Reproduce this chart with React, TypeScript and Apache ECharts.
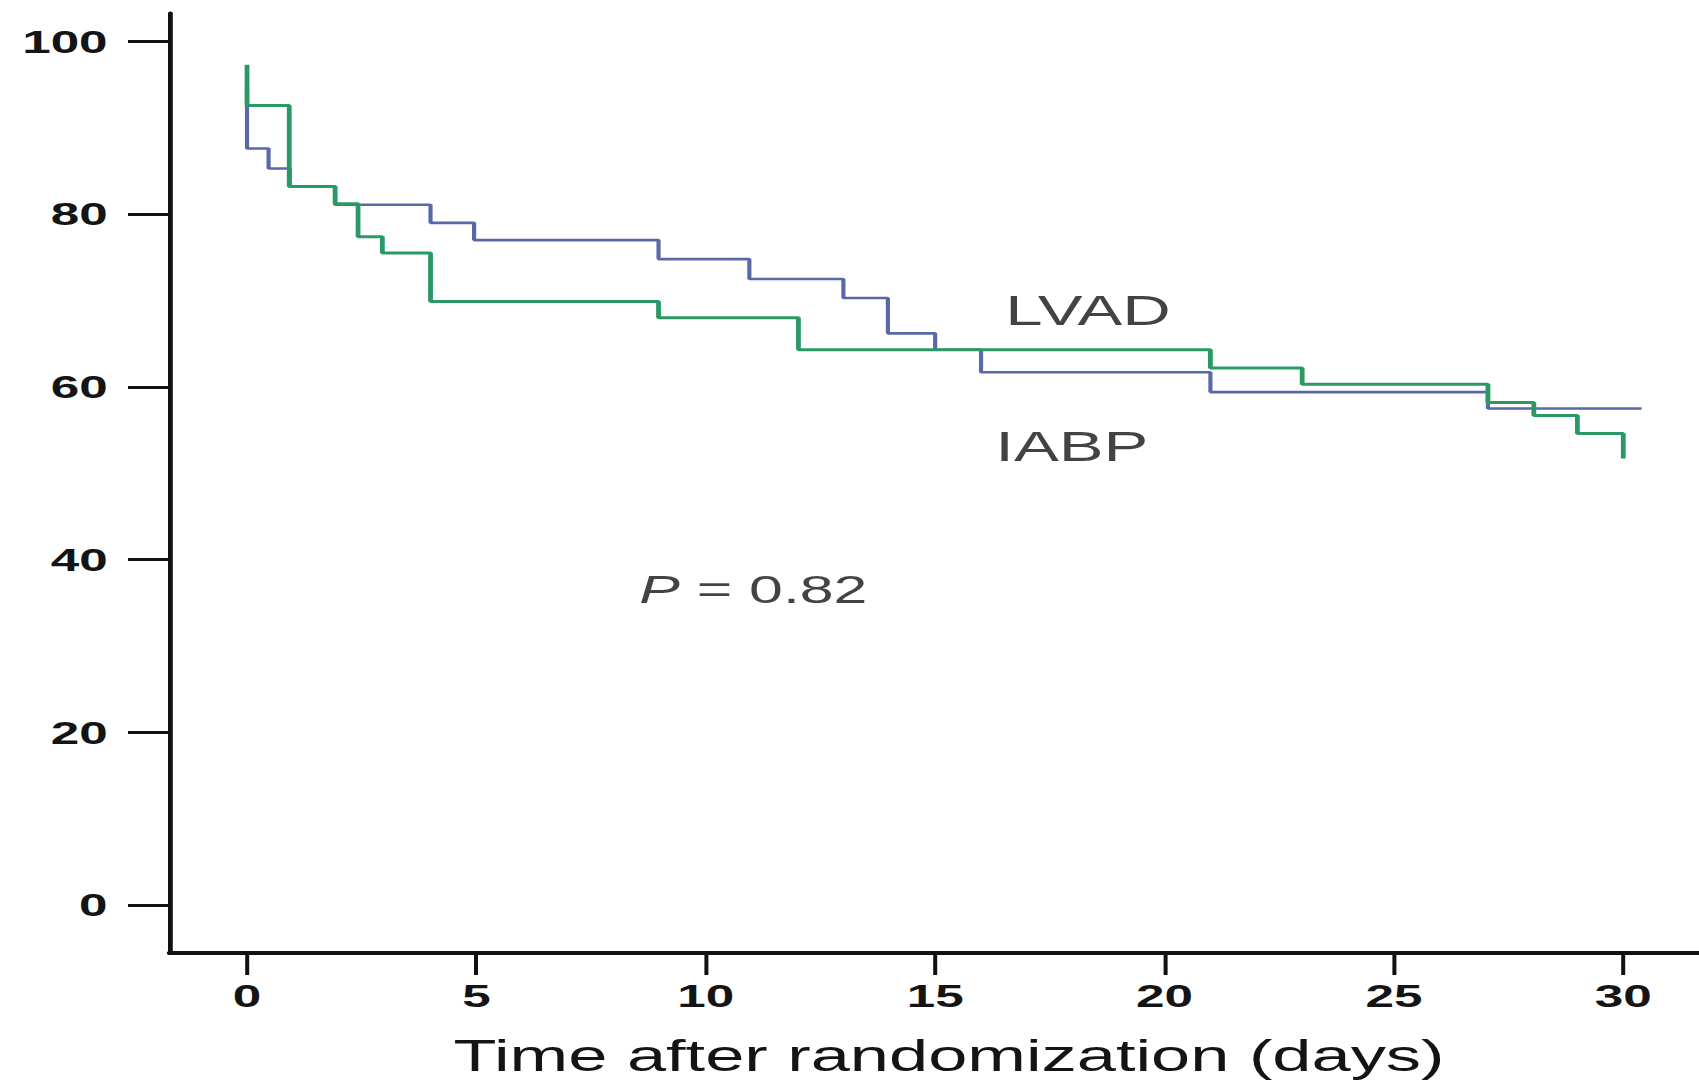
import React, { useEffect, useRef } from "react";
import * as echarts from "echarts";

// ---- Data ----
const xTickValues = [0, 5, 10, 15, 20, 25, 30];
const yTickValues = [0, 20, 40, 60, 80, 100];

// Green curve (LVAD)
const lvadDays = [0, 0, 0.92, 1.92, 2.42, 2.95, 4.0, 8.97, 12.02, 21.0, 23.0, 27.05, 28.05, 29.0, 30.0];
const lvadSurvival = [97.3, 92.6, 83.2, 81.2, 77.4, 75.5, 69.9, 68.0, 64.3, 62.2, 60.3, 58.2, 56.7, 54.6, 51.7];

// Blue curve (IABP)
const iabpDays = [0, 0, 0.47, 0.93, 1.92, 4.0, 4.95, 8.97, 10.95, 13.0, 13.97, 15.0, 16.0, 21.0, 27.05, 30.4];
const iabpSurvival = [94.7, 87.6, 85.3, 83.2, 81.1, 79.0, 77.0, 74.8, 72.5, 70.3, 66.2, 64.3, 61.7, 59.4, 57.5, 57.5];

const curveLabels = ["LVAD", "IABP"];
const curveLabelDays = [16.53, 16.31];
const curveLabelValues = [68.9, 53.1];

const pValueText = "0.82";
const pLabelDay = 8.55;
const pLabelValue = 36.5;

const xAxisTitle = "Time after randomization (days)";

// ---- Layout ----
const FULL_W = 1699;
const FULL_H = 1083;
const STRETCH = 1.6; // the figure's text is horizontally stretched
const INNER_W = FULL_W / STRETCH;
const FONT = "'Liberation Sans', Arial, Helvetica, sans-serif";
const INK = "#111111";
const TEXT = "#141414";

function buildOption(): echarts.EChartsOption {
  return {
    animation: false,
    backgroundColor: "#ffffff",
    grid: {
      left: 170 / STRETCH,
      right: 0,
      top: 13,
      bottom: FULL_H - 953.5,
      containLabel: false,
    },
    xAxis: {
      type: "value",
      min: -1.679,
      max: 31.655,
      splitLine: { show: false },
      axisLine: { show: true, onZero: false, lineStyle: { color: INK, width: 4 } },
      axisTick: {
        show: true,
        length: 22,
        customValues: xTickValues,
        lineStyle: { color: INK, width: 2.5 },
      } as any,
      axisLabel: {
        customValues: xTickValues,
        margin: 27,
        fontSize: 32,
        fontWeight: "bold",
        color: TEXT,
        fontFamily: FONT,
      } as any,
      name: xAxisTitle,
      nameLocation: "middle",
      nameGap: 81,
      nameTextStyle: {
        fontSize: 44,
        color: TEXT,
        fontFamily: FONT,
        padding: [0, 0, 0, 18],
      },
    },
    yAxis: {
      type: "value",
      min: -5.556,
      max: 103.3,
      splitLine: { show: false },
      axisLine: { show: true, onZero: false, lineStyle: { color: INK, width: 3 } },
      axisTick: {
        show: true,
        length: 26.25,
        customValues: yTickValues,
        lineStyle: { color: INK, width: 3 },
      } as any,
      axisLabel: {
        customValues: yTickValues,
        margin: 39,
        fontSize: 32,
        fontWeight: "bold",
        color: TEXT,
        fontFamily: FONT,
      } as any,
    },
    series: [
      {
        type: "line",
        name: "IABP",
        step: "end",
        symbol: "none",
        showSymbol: false,
        data: iabpDays.map((d, i) => [d, iabpSurvival[i]]),
        lineStyle: { color: "#5b68a8", width: 2.6 },
        z: 2,
      },
      {
        type: "line",
        name: "LVAD",
        step: "end",
        symbol: "none",
        showSymbol: false,
        data: lvadDays.map((d, i) => [d, lvadSurvival[i]]),
        lineStyle: { color: "#2a9a64", width: 3 },
        z: 3,
      },
      {
        type: "scatter",
        name: "labels",
        symbolSize: 0,
        silent: true,
        data: curveLabels.map((t, i) => ({ name: t, value: [curveLabelDays[i], curveLabelValues[i]] })),
        label: {
          show: true,
          position: "right",
          distance: 0,
          formatter: "{b}",
          fontSize: 42,
          color: TEXT,
          fontFamily: FONT,
        },
        z: 4,
      },
      {
        type: "scatter",
        name: "pvalue",
        symbolSize: 0,
        silent: true,
        data: [{ name: "P", value: [pLabelDay, pLabelValue] }],
        label: {
          show: true,
          position: "right",
          distance: 0,
          formatter: "{i|P}{n| = " + pValueText + "}",
          rich: {
            i: { fontStyle: "italic", fontSize: 38, color: TEXT, fontFamily: FONT },
            n: { fontSize: 38, color: TEXT, fontFamily: FONT },
          },
        },
        z: 4,
      },
    ],
  };
}

export default function App() {
  const ref = useRef<HTMLDivElement>(null);
  useEffect(() => {
    if (!ref.current) return;
    const chart = echarts.init(ref.current, null, { renderer: "svg" });
    chart.setOption(buildOption());
    return () => {
      chart.dispose();
    };
  }, []);
  return (
    <div
      style={{
        position: "fixed",
        left: 0,
        top: 0,
        width: FULL_W,
        height: FULL_H,
        overflow: "hidden",
        background: "#ffffff",
      }}
    >
      <div
        ref={ref}
        style={{
          width: INNER_W,
          height: FULL_H,
          transform: `scaleX(${STRETCH})`,
          transformOrigin: "0 0",
        }}
      />
    </div>
  );
}
